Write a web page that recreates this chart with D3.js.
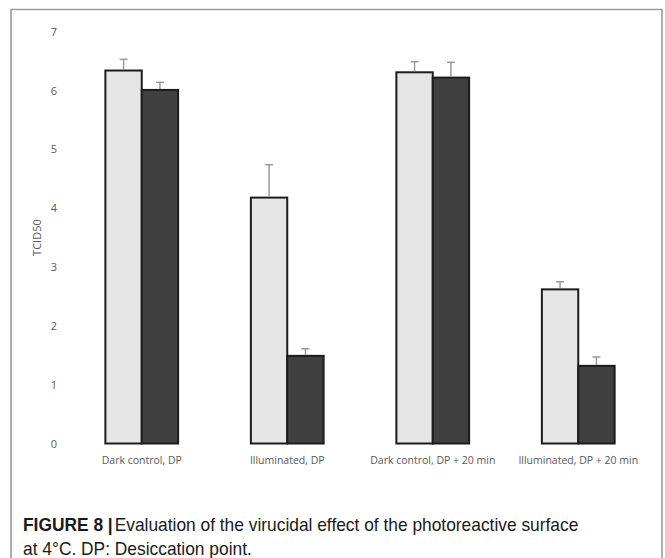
<!DOCTYPE html>
<html>
<head>
<meta charset="utf-8">
<script src="https://cdn.jsdelivr.net/npm/d3@7/dist/d3.min.js"></script>
<style>
  html, body { margin: 0; padding: 0; background: #fff; }
  svg { display: block; }
</style>
</head>
<body>
<svg id="fig" width="665" height="558"></svg>
<script>
// Virucidal effect at 4 °C: TCID50 per condition, two series per condition
const categories = ["Dark control, DP", "Illuminated, DP", "Dark control, DP + 20 min", "Illuminated, DP + 20 min"];
const seriesNames = ["light", "dark"];
const lightValues = [6.34, 4.18, 6.31, 2.62];
const lightErrors = [0.19, 0.56, 0.18, 0.13];
const darkValues = [6.01, 1.49, 6.22, 1.32];
const darkErrors = [0.13, 0.12, 0.26, 0.15];
const yTicks = [0, 1, 2, 3, 4, 5, 6, 7];

const seriesFill = { light: "#e6e6e6", dark: "#404040" };

const svg = d3.select("#fig");

// figure frame (open at the bottom)
svg.append("path")
  .attr("d", "M11,558 V9.5 H662 V558")
  .attr("fill", "none")
  .attr("stroke", "#9a9a9a")
  .attr("stroke-width", 1.6);

const plot = { left: 69, right: 651, top: 31.7, bottom: 443.5 };

const x = d3.scaleBand().domain(categories).range([plot.left, plot.right])
  .paddingInner(0.5).paddingOuter(0.25);
const xSub = d3.scaleBand().domain(seriesNames).range([0, x.bandwidth()]).padding(0);
const y = d3.scaleLinear().domain([0, 7]).range([plot.bottom, plot.top]);

const rows = categories.map((c, i) => ({
  category: c,
  bars: [
    { key: "light", value: lightValues[i], err: lightErrors[i] },
    { key: "dark", value: darkValues[i], err: darkErrors[i] }
  ]
}));

// y axis: labels only
const yAxis = svg.append("g")
  .attr("transform", `translate(${60},0)`)
  .call(d3.axisLeft(y).tickValues(yTicks).tickFormat(d3.format("d")).tickSize(0).tickPadding(3));
yAxis.select(".domain").remove();
yAxis.selectAll("text")
  .attr("font-family", "'Open Sans', 'Liberation Sans', sans-serif")
  .attr("font-size", 11)
  .attr("fill", "#595959");

svg.append("text")
  .attr("transform", `translate(${41},${(plot.top + plot.bottom) / 2}) rotate(-90)`)
  .attr("text-anchor", "middle")
  .attr("font-family", "'Open Sans', 'Liberation Sans', sans-serif")
  .attr("font-size", 11)
  .attr("fill", "#595959")
  .text("TCID50");

// grouped bars
const groups = svg.append("g").selectAll("g")
  .data(rows).join("g")
  .attr("transform", d => `translate(${x(d.category)},0)`);

groups.selectAll("rect")
  .data(d => d.bars).join("rect")
  .attr("x", d => xSub(d.key))
  .attr("y", d => y(d.value))
  .attr("width", xSub.bandwidth())
  .attr("height", d => y(0) - y(d.value))
  .attr("fill", d => seriesFill[d.key])
  .attr("stroke", "#1c1c1c")
  .attr("stroke-width", 2);

// error bars (upper half only)
const errs = groups.selectAll("g.err")
  .data(d => d.bars).join("g")
  .attr("class", "err")
  .attr("stroke", "#9a9a9a")
  .attr("stroke-width", 1.5);
errs.append("line")
  .attr("x1", d => xSub(d.key) + xSub.bandwidth() / 2)
  .attr("x2", d => xSub(d.key) + xSub.bandwidth() / 2)
  .attr("y1", d => y(d.value) - 1)
  .attr("y2", d => y(d.value + d.err));
errs.append("line")
  .attr("x1", d => xSub(d.key) + xSub.bandwidth() / 2 - 4)
  .attr("x2", d => xSub(d.key) + xSub.bandwidth() / 2 + 4)
  .attr("y1", d => y(d.value + d.err))
  .attr("y2", d => y(d.value + d.err));

// category labels
const xAxis = svg.append("g")
  .attr("transform", `translate(0,${plot.bottom + 9})`)
  .call(d3.axisBottom(x).tickSize(0).tickPadding(4));
xAxis.select(".domain").remove();
xAxis.selectAll("text")
  .attr("font-family", "'Open Sans', 'Liberation Sans', sans-serif")
  .attr("font-size", 10.5)
  .attr("fill", "#595959");

// caption, slightly condensed
const caption = svg.append("g")
  .attr("transform", "translate(23,0) scale(0.965,1)")
  .attr("font-family", "'Liberation Sans Narrow', 'Arial Narrow', 'Liberation Sans', sans-serif")
  .attr("font-size", 18)
  .attr("fill", "#1a1a1a");
const line1 = caption.append("text").attr("x", 0).attr("y", 531);
line1.append("tspan").attr("font-weight", "bold").text("FIGURE 8 |");
line1.append("tspan").attr("dx", 2).text("Evaluation of the virucidal effect of the photoreactive surface");
caption.append("text").attr("x", 0).attr("y", 555)
  .text("at 4°C. DP: Desiccation point.");
</script>
</body>
</html>
